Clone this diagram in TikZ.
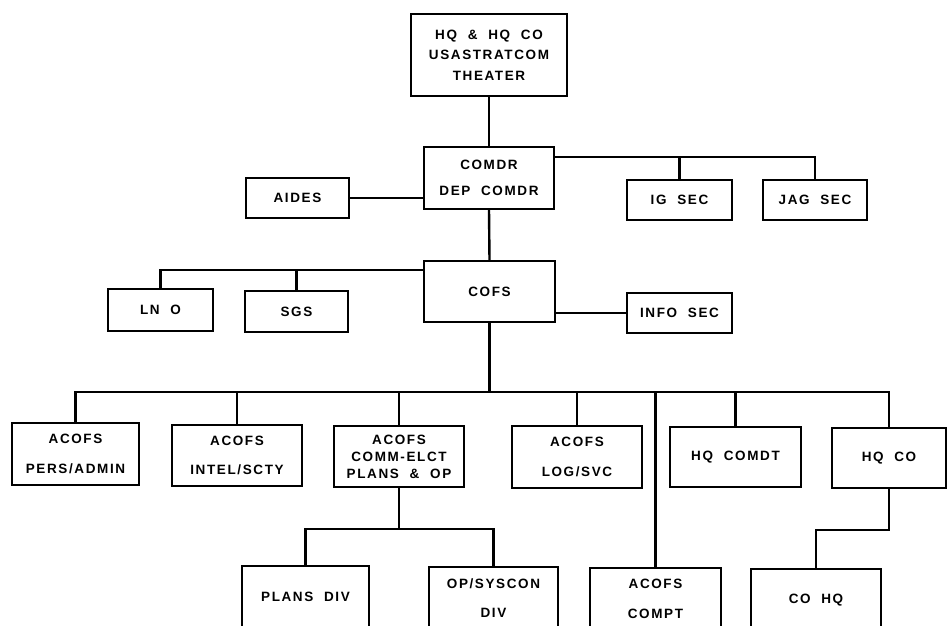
\documentclass[tikz,border=0pt]{standalone}
\usepackage{fontspec}
\newfontfamily\lab{Liberation Sans Bold}[LetterSpace=12,WordSpace=2]
\usetikzlibrary{calc}
\begin{document}
\begin{tikzpicture}[x=1pt,y=-1pt,
  box/.style={draw,line width=1.3pt,inner sep=0pt,align=center,
    font=\lab\fontsize{13.5}{20.5}\selectfont},
  link/.style={line width=2.4pt,line cap=rect}]
\clip (0,0) rectangle (948,626);
\fill[white] (0,0) rectangle (948,626);
% nodes
\node[box,minimum width=156pt,minimum height=82pt] (top) at (489,55) {HQ \& HQ CO\\USASTRATCOM\\THEATER};
\node[box,minimum width=130pt,minimum height=62pt] (comdr) at (489,178) {COMDR\\[6pt]DEP COMDR};
\node[box,minimum width=103pt,minimum height=40pt] (aides) at (297.5,198) {AIDES};
\node[box,minimum width=105pt,minimum height=40pt] (ig) at (679.5,200) {IG SEC};
\node[box,minimum width=104pt,minimum height=40pt] (jag) at (815,200) {JAG SEC};
\node[box,minimum width=131pt,minimum height=61pt] (cofs) at (489.5,291.5) {COFS};
\node[box,minimum width=105pt,minimum height=42pt] (lno) at (160.5,310) {LN O};
\node[box,minimum width=103pt,minimum height=41pt] (sgs) at (296.5,311.5) {SGS};
\node[box,minimum width=105pt,minimum height=40pt] (info) at (679.5,313) {INFO SEC};
\node[box,minimum width=127pt,minimum height=62pt] (pers) at (75.5,454) {ACOFS\\[9pt]PERS/ADMIN};
\node[box,minimum width=130pt,minimum height=61pt] (intel) at (237,455.5) {ACOFS\\[9pt]INTEL/SCTY};
\node[box,minimum width=130pt,minimum height=61pt,
  font=\lab\fontsize{13.5}{17}\selectfont] (comm) at (399,456.5) {ACOFS\\COMM-ELCT\\PLANS \& OP};
\node[box,minimum width=130pt,minimum height=62pt] (log) at (577,457) {ACOFS\\[9pt]LOG/SVC};
\node[box,minimum width=131pt,minimum height=60pt] (comdt) at (735.5,457) {HQ COMDT};
\node[box,minimum width=114pt,minimum height=60pt] (hqco) at (889,458) {HQ CO};
\node[box,minimum width=127pt,minimum height=62pt] (plans) at (305.5,597) {PLANS DIV};
\node[box,minimum width=129pt,minimum height=62pt] (opsys) at (493.5,598) {OP/SYSCON\\[9pt]DIV};
\node[box,minimum width=131pt,minimum height=62pt] (compt) at (655.5,599) {ACOFS\\[9pt]COMPT};
\node[box,minimum width=130pt,minimum height=62pt] (cohq) at (816,600) {CO HQ};
% helper coordinates
\coordinate (rbus) at (0,157);
\coordinate (lbus) at (0,270);
\coordinate (mbus) at (0,392);
\coordinate (cbus) at (0,529);
\coordinate (hbus) at (0,530);
% connectors
\draw[link] (top.south) -- (comdr.north);
\draw[link] (aides.east) -- (aides.east -| comdr.west);
\draw[link] (comdr.east |- rbus) -| (jag.north);
\draw[link] (ig.north) -- (ig.north |- rbus);
\draw[link] (comdr.south) -- (cofs.north);
\draw[link] (cofs.west |- lbus) -| (lno.north);
\draw[link] (sgs.north) -- (sgs.north |- lbus);
\draw[link] (info.west -| cofs.east) -- (info.west);
\draw[link] (cofs.south) -- (cofs.south |- mbus);
\draw[link] (pers.north) |- (hqco.north |- mbus) -- (hqco.north);
\draw[link] (intel.north) -- (intel.north |- mbus);
\draw[link] (comm.north) -- (comm.north |- mbus);
\draw[link] (log.north) -- (log.north |- mbus);
\draw[link] (comdt.north) -- (comdt.north |- mbus);
\draw[link] (compt.north) -- (compt.north |- mbus);
\draw[link] (comm.south) -- (comm.south |- cbus);
\draw[link] (plans.north) |- (opsys.north |- cbus) -- (opsys.north);
\draw[link] (hqco.south) -- (hqco.south |- hbus) -| (cohq.north);
\end{tikzpicture}
\end{document}
